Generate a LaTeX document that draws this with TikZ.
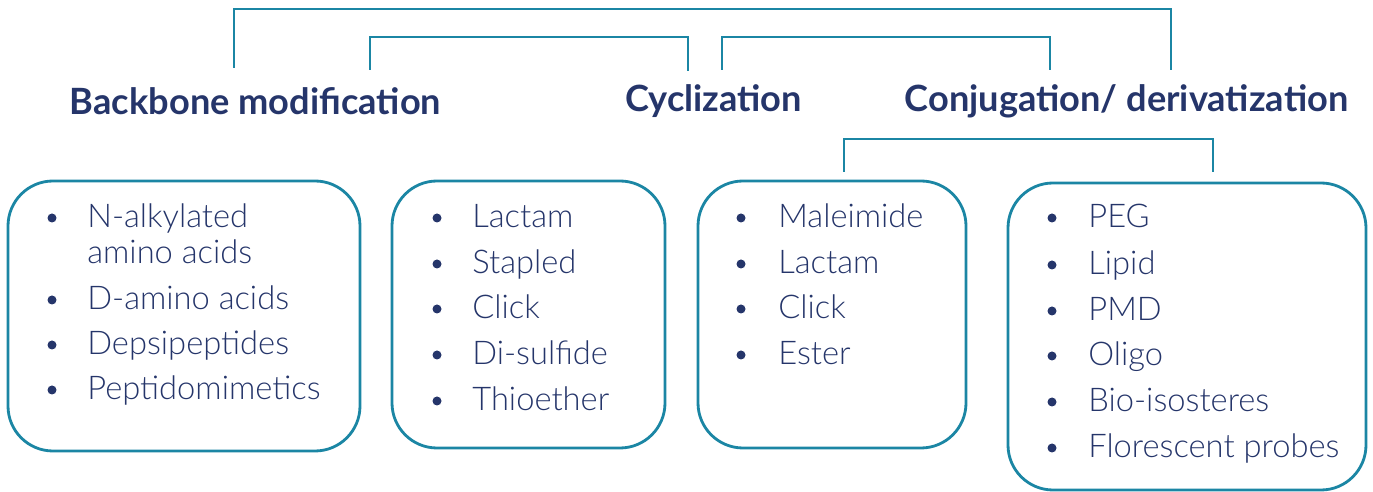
\documentclass[tikz,border=0pt]{standalone}
\usepackage{fontspec}
\setmainfont{Lato}
\newfontfamily\listafont{Lato Light}
\usepackage{tikz}
\usetikzlibrary{calc}
\definecolor{LineaTeal}{HTML}{1B86A4}
\definecolor{TextoAzul}{HTML}{25356A}

\begin{document}
\begin{tikzpicture}[x = .02cm, y = -.02cm,
    head/.style = {font = \bfseries\fontsize{20.6}{24}\selectfont, text = TextoAzul, inner sep = 0pt},
    item/.style = {font = \listafont\fontsize{18.6}{21}\selectfont, text = TextoAzul, inner sep = 0pt, anchor = base west},
    caja/.style = {draw = LineaTeal, line width = 1.6pt, rounded corners = .9cm},
    brazo/.style = {draw = LineaTeal, line width = 1.6pt}]
  \useasboundingbox (0,0) rectangle (1373,492);

  % headings
  \node[head] (back) at (255.5,101) {Backbone modification};
  \node[head] (cycl) at (713.5,101) {Cyclization};
  \node[head] (conj) at (1126.5,101) {Conjugation/ derivatization};

  % boxes
  \draw[caja] (8,181) rectangle (360,451);
  \draw[caja] (392,181) rectangle (665,448);
  \draw[caja] (698,181) rectangle (966,448);
  \draw[caja] (1008,183) rectangle (1366,490);

  % brackets
  \coordinate (t1) at (234,68);
  \coordinate (t2) at (1171,70);
  \draw[brazo] (t1) -- (234,9) -- (1171,9) -- (t2);
  \coordinate (m1) at (370,70);
  \coordinate (m2) at (688,71);
  \draw[brazo] (m1) -- (370,37) -- (688,37) -- (m2);
  \coordinate (m3) at (722,70);
  \coordinate (m4) at (1050,70);
  \draw[brazo] (m3) -- (722,37) -- (1050,37) -- (m4);
  \coordinate (b1) at (844,172);
  \coordinate (b2) at (1213,172);
  \draw[brazo] (b1) -- (844,139) -- (1213,139) -- (b2);

  % lists
  \foreach \y/\txt/\pt [count = \i] in {218/N-alkylated/1, 254/amino acids/0,
      300/D-amino acids/1, 345/Depsipeptides/1, 390/Peptidomimetics/1} {
    \node[item] (ba\i) at (87,\y+10) {\txt};
    \ifnum\pt=1 \fill[TextoAzul] (52,\y) circle[radius = 4.5]; \fi
  }
  \foreach \y/\txt [count = \i] in {218/Lactam, 264/Stapled, 309/Click,
      355/Di-sulfide, 401/Thioether} {
    \node[item] (cy\i) at (472,\y+10) {\txt};
    \fill[TextoAzul] (437,\y) circle[radius = 4.5];
  }
  \foreach \y/\txt [count = \i] in {218/Maleimide, 264/Lactam, 309/Click,
      355/Ester} {
    \node[item] (cm\i) at (778,\y+10) {\txt};
    \fill[TextoAzul] (741,\y) circle[radius = 4.5];
  }
  \foreach \y/\txt [count = \i] in {218/PEG, 265/Lipid, 311/PMD, 356/Oligo,
      402/Bio-isosteres, 448/Florescent probes} {
    \node[item] (cd\i) at (1088,\y+10) {\txt};
    \fill[TextoAzul] (1052,\y) circle[radius = 4.5];
  }
\end{tikzpicture}
\end{document}
